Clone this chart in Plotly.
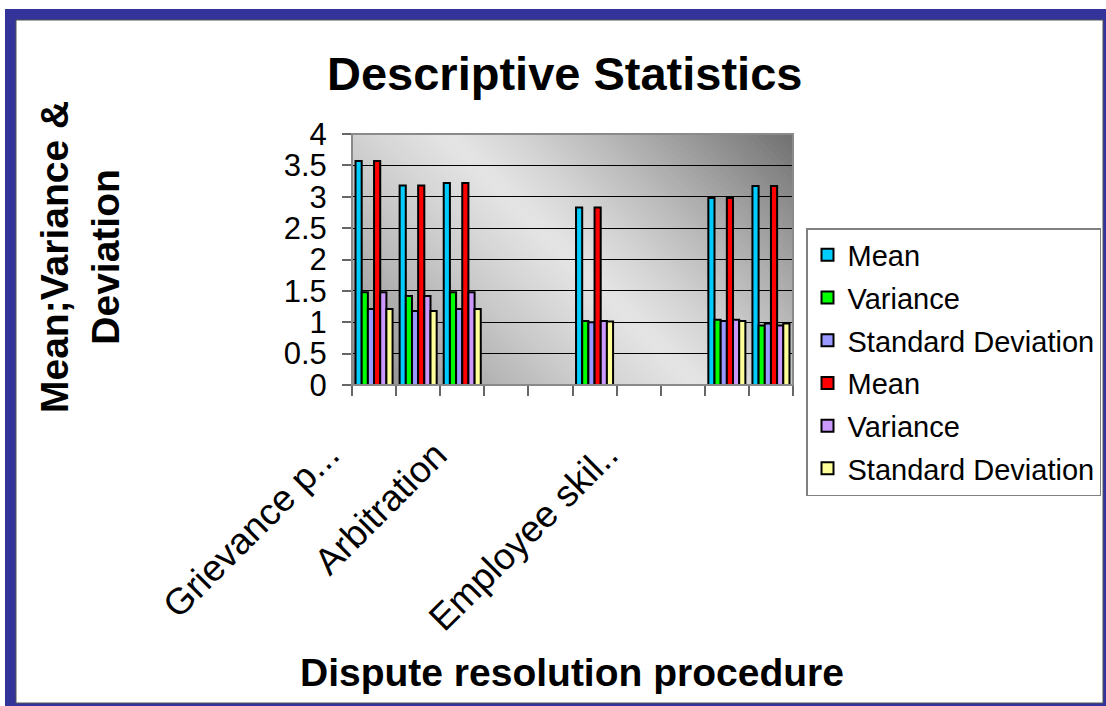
import plotly.graph_objects as go

# ---- data -------------------------------------------------------------
# ten category slots along the x axis; only some carry bars / labels
n_slots = 10
label_slots = [0, 2, 5]
label_texts = ["Grievance p...", "Arbitration", "Employee skil.."]

series_names = ["Mean", "Variance", "Standard Deviation",
                "Mean", "Variance", "Standard Deviation"]
series_colors = ["#00CCFF", "#00FF00", "#9999FF",
                 "#FF0000", "#CC99FF", "#FFFF99"]

mean_1 = [3.57, 3.18, 3.22, None, None, 2.83, None, None, 2.98, 3.17]
variance_1 = [1.48, 1.42, 1.48, None, None, 1.02, None, None, 1.04, 0.95]
std_dev_1 = [1.21, 1.18, 1.21, None, None, 1.00, None, None, 1.02, 0.98]
mean_2 = [3.57, 3.18, 3.22, None, None, 2.83, None, None, 2.98, 3.17]
variance_2 = [1.48, 1.42, 1.48, None, None, 1.02, None, None, 1.04, 0.95]
std_dev_2 = [1.21, 1.18, 1.21, None, None, 1.01, None, None, 1.02, 0.98]
series_values = [mean_1, variance_1, std_dev_1, mean_2, variance_2, std_dev_2]

y_ticks = [0, 0.5, 1, 1.5, 2, 2.5, 3, 3.5, 4]

# ---- geometry (pixels) -------------------------------------------------
W, H = 1106, 706
PL, PR, PT, PB = 352, 793, 134, 385   # plot area box


def fx(px):
    return px / W


def fy(py):
    return 1 - py / H


FONT = "Liberation Sans, Arial, sans-serif"

fig = go.Figure()
x_slots = list(range(n_slots))
for i, (name, color, vals) in enumerate(zip(series_names, series_colors, series_values)):
    fig.add_trace(go.Bar(
        x=x_slots, y=vals, name=name,
        marker=dict(color=color, line=dict(color="#000000", width=2)),
        legendgroup=f"g{i}",
    ))

shapes = []
# outer navy frame and white card
shapes.append(dict(type="rect", xref="paper", yref="paper", layer="below",
                   x0=fx(5), x1=fx(W), y0=fy(9), y1=fy(H),
                   fillcolor="#333399", line=dict(width=0)))
shapes.append(dict(type="rect", xref="paper", yref="paper", layer="below",
                   x0=fx(16), x1=fx(1103), y0=fy(20), y1=fy(703),
                   fillcolor="#FFFFFF", line=dict(color="#555555", width=1)))


# diagonal grey gradient for the plot area, built from thin strips
def clip(poly, a, b, c):
    # keep points where a*x + b*y + c >= 0
    out = []
    n = len(poly)
    for k in range(n):
        p, q = poly[k], poly[(k + 1) % n]
        fp = a * p[0] + b * p[1] + c
        fq = a * q[0] + b * q[1] + c
        if fp >= 0:
            out.append(p)
        if (fp >= 0) != (fq >= 0):
            t = fp / (fp - fq)
            out.append((p[0] + t * (q[0] - p[0]), p[1] + t * (q[1] - p[1])))
    return out


cx, cy = (PL + PR) / 2, (PT + PB) / 2
smax = ((PR - cx) - (PT - cy))       # s at top-right corner (unnormalised)
n_strips = 90
light = 228
dark_tr, dark_bl = 112, 136
rect = [(PL, PT), (PR, PT), (PR, PB), (PL, PB)]
for k in range(n_strips):
    s1 = -smax + 2 * smax * k / n_strips
    s2 = -smax + 2 * smax * (k + 1) / n_strips + 1.5
    # s = (x - cx) - (y - cy)
    poly = clip(rect, 1, -1, -cx + cy - s1)
    poly = clip(poly, -1, 1, cx - cy + s2)
    if len(poly) < 3:
        continue
    sm = (s1 + s2) / 2
    r = abs(sm) / smax
    dark = dark_tr if sm > 0 else dark_bl
    g = int(round(light - (light - dark) * r ** 1.2))
    path = "M " + " L ".join(f"{fx(p[0]):.5f},{fy(p[1]):.5f}" for p in poly) + " Z"
    shapes.append(dict(type="path", xref="paper", yref="paper", layer="below",
                       path=path, fillcolor=f"rgb({g},{g},{g})", line=dict(width=0)))

# plot-area border
shapes.append(dict(type="rect", xref="paper", yref="paper", layer="above",
                   x0=fx(PL), x1=fx(PR), y0=fy(PB), y1=fy(PT),
                   line=dict(color="#8A8A8A", width=2)))

annotations = [
    dict(text="<b>Descriptive Statistics</b>", xref="paper", yref="paper",
         x=fx(564), y=fy(73), xanchor="center", yanchor="middle", showarrow=False,
         font=dict(family=FONT, size=47, color="#000000")),
    dict(text="<b>Dispute resolution procedure</b>", xref="paper", yref="paper",
         x=fx(572), y=fy(672), xanchor="center", yanchor="middle", showarrow=False,
         font=dict(family=FONT, size=39, color="#000000")),
    dict(text="<b>Mean;Variance &amp;<br>Deviation</b>", xref="paper", yref="paper",
         x=fx(80), y=fy(257), xanchor="center", yanchor="middle", showarrow=False,
         textangle=-90, font=dict(family=FONT, size=39, color="#000000")),
]
label_shift = [-24, -5, 34]
for slot, txt, sh in zip(label_slots, label_texts, label_shift):
    annotations.append(dict(
        text=txt, xref="x", yref="paper", x=slot, y=fy(PB + 46),
        xshift=sh, xanchor="right", yanchor="top", showarrow=False,
        textangle=-45, font=dict(family=FONT, size=37, color="#000000")))

fig.update_layout(
    width=W, height=H,
    margin=dict(l=0, r=0, t=0, b=0),
    paper_bgcolor="#FFFFFF",
    plot_bgcolor="rgba(0,0,0,0)",
    barmode="group", bargap=0.16, bargroupgap=0,
    shapes=shapes, annotations=annotations,
    font=dict(family=FONT, color="#000000"),
    xaxis=dict(domain=[fx(PL), fx(PR)], range=[-0.5, n_slots - 0.5],
               tickvals=[i - 0.5 for i in range(n_slots + 1)], ticktext=[""] * (n_slots + 1),
               ticks="outside", ticklen=10, tickwidth=2, tickcolor="#666666",
               showgrid=False, zeroline=False, showline=False, automargin=False,
               fixedrange=True),
    yaxis=dict(domain=[fy(PB), fy(PT)], range=[0, 4], tickvals=y_ticks,
               ticktext=[f"{v:g}" for v in y_ticks],
               ticks="outside", ticklen=9, tickwidth=2, tickcolor="#666666",
               ticklabelstandoff=9,
               tickfont=dict(family=FONT, size=31, color="#000000"),
               showgrid=True, gridcolor="#000000", gridwidth=1,
               zeroline=False, showline=False, automargin=False, fixedrange=True),
    legend=dict(x=fx(806), y=fy(228), xanchor="left", yanchor="top",
                bgcolor="#FFFFFF", bordercolor="#808080", borderwidth=1.5,
                font=dict(family=FONT, size=29, color="#000000"),
                tracegroupgap=2, itemwidth=30),
    showlegend=True,
)

fig.write_html("out.html")
